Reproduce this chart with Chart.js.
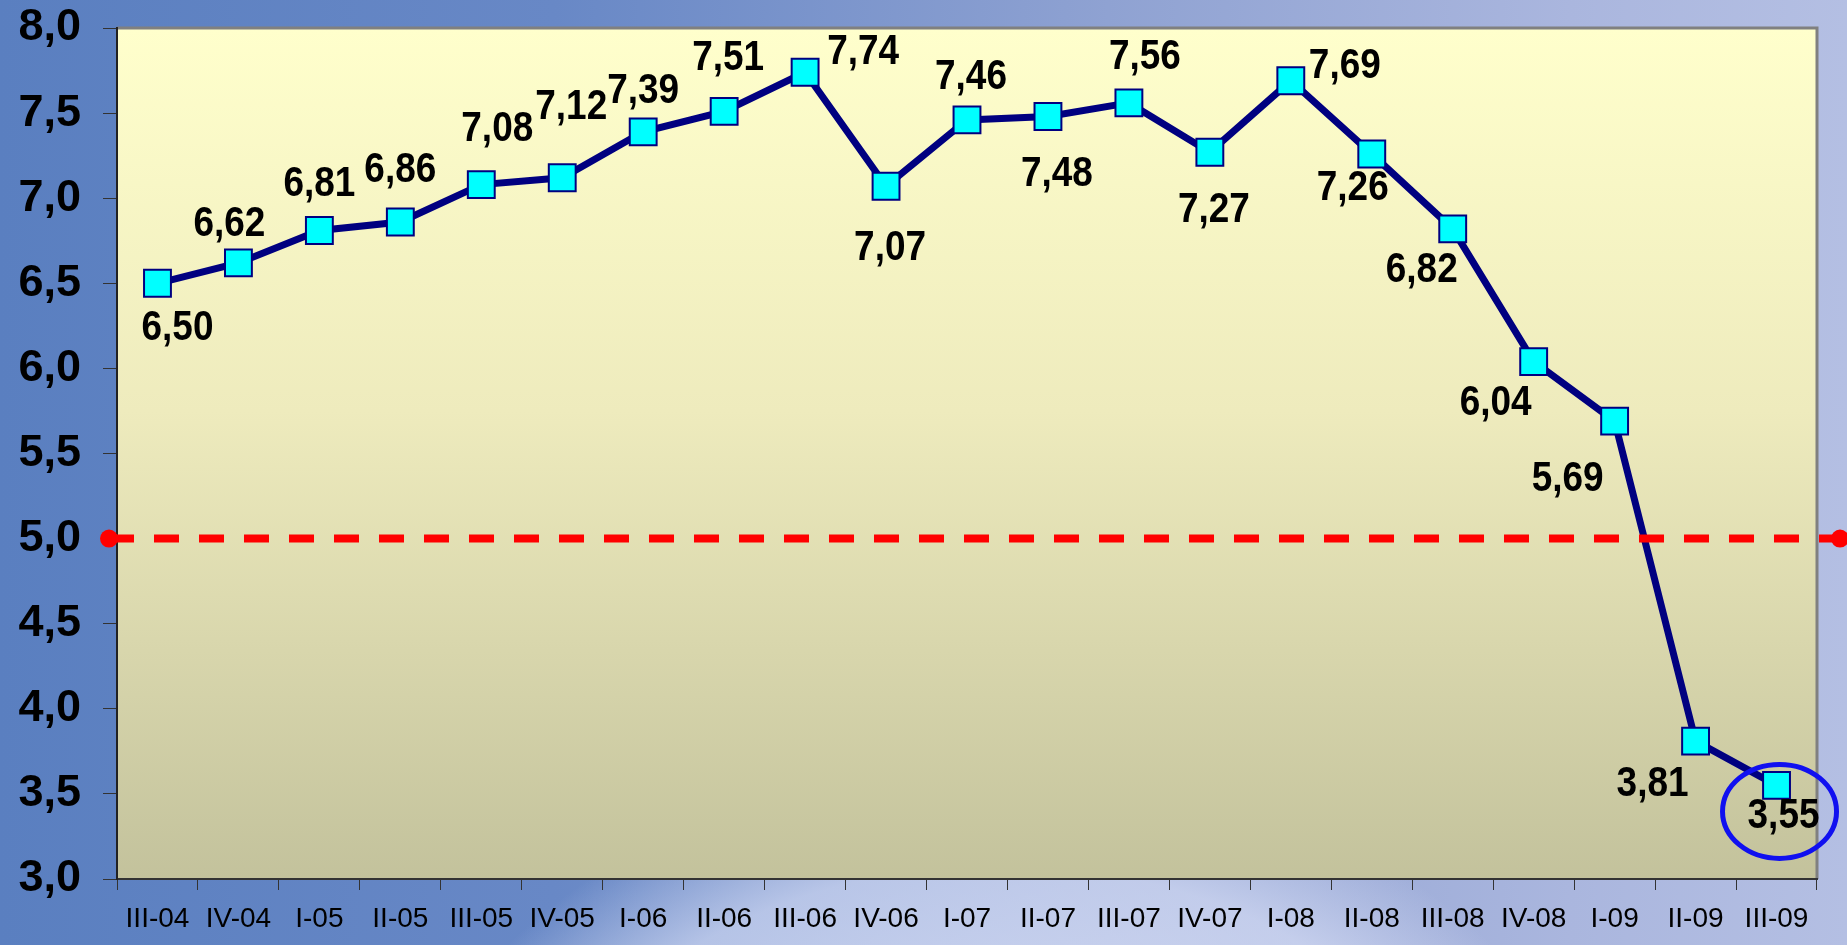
<!DOCTYPE html>
<html>
<head>
<meta charset="utf-8">
<script src="https://cdn.jsdelivr.net/npm/chart.js@4/dist/chart.umd.min.js"></script>
<style>
  html, body { margin: 0; padding: 0; }
  body {
    width: 1847px; height: 945px; overflow: hidden;
    background:
      radial-gradient(ellipse 900px 700px at 1000px 1250px, rgba(225,230,250,0.9) 0%, rgba(225,230,250,0.6) 55%, rgba(225,230,250,0) 70%),
      linear-gradient(90deg, #5a7fc0 0%, #6888c6 30%, #8fa2d2 60%, #aab6de 85%, #b4bfe3 100%);
  }
  #wrap { position: absolute; left: 0; top: 0; width: 1847px; height: 945px; }
</style>
</head>
<body>
<div id="wrap"><canvas id="chart"></canvas></div>
<script>
// kwartaly
const kwartaly = ["III-04", "IV-04", "I-05", "II-05", "III-05", "IV-05", "I-06", "II-06", "III-06", "IV-06",
  "I-07", "II-07", "III-07", "IV-07", "I-08", "II-08", "III-08", "IV-08", "I-09", "II-09", "III-09"];

const wartosci = [6.50, 6.62, 6.81, 6.86, 7.08, 7.12, 7.39, 7.51, 7.74, 7.07,
  7.46, 7.48, 7.56, 7.27, 7.69, 7.26, 6.82, 6.04, 5.69, 3.81, 3.55];

const osY_min = 3.0;
const osY_max = 8.0;
const osY_krok = 0.5;
const prog = 5.0; // czerwona linia przerywana

// przesuniecie etykiet wzgledem punktu [dx, dy]
const przesuniecia = [
  [20, 45], [-9, -38], [0, -46], [0, -52], [16, -55], [9, -70], [0, -40], [4, -53], [58, -20], [4, 62],
  [4, -42], [9, 58], [16, -45], [4, 58], [54, -14], [-19, 34], [-31, 42], [-38, 42], [-47, 58], [-43, 43], [7, 31]
];

const fmt = (v) => v.toFixed(2).replace(".", ",");

const tloWykresu = {
  id: "tloWykresu",
  beforeDraw(chart) {
    const { ctx, chartArea: a } = chart;
    const g = ctx.createLinearGradient(0, a.top, 0, a.bottom);
    g.addColorStop(0, "#ffffcc");
    g.addColorStop(0.45, "#eeebbd");
    g.addColorStop(1, "#c3c29c");
    ctx.save();
    ctx.fillStyle = g;
    ctx.fillRect(a.left, a.top, a.right - a.left, a.bottom - a.top);
    ctx.strokeStyle = "#808080";
    ctx.lineWidth = 3;
    ctx.beginPath();
    ctx.moveTo(a.left, a.top);
    ctx.lineTo(a.right, a.top);
    ctx.lineTo(a.right, a.bottom);
    ctx.stroke();
    ctx.restore();
  }
};

const liniaProgu = {
  id: "liniaProgu",
  afterDatasetsDraw(chart) {
    const { ctx, chartArea: a } = chart;
    const y = chart.scales.y.getPixelForValue(prog);
    const x0 = a.left - 8;
    const x1 = chart.width - 7;
    ctx.save();
    ctx.strokeStyle = "#ff0000";
    ctx.lineWidth = 8;
    ctx.setLineDash([25, 20]);
    ctx.beginPath();
    ctx.moveTo(x0, y);
    ctx.lineTo(x1, y);
    ctx.stroke();
    ctx.setLineDash([]);
    ctx.fillStyle = "#ff0000";
    [x0, x1].forEach((x) => {
      ctx.beginPath();
      ctx.arc(x, y, 9, 0, Math.PI * 2);
      ctx.fill();
    });
    ctx.restore();
  }
};

const etykiety = {
  id: "etykiety",
  afterDatasetsDraw(chart) {
    const { ctx } = chart;
    const pts = chart.getDatasetMeta(0).data;
    const sx = 0.88; // wezszy krój jak w oryginale
    ctx.save();
    ctx.fillStyle = "#000000";
    ctx.font = "bold 42px 'Liberation Sans', Arial";
    ctx.textAlign = "center";
    ctx.textBaseline = "middle";
    pts.forEach((p, i) => {
      const [dx, dy] = przesuniecia[i];
      ctx.save();
      ctx.translate(p.x + dx, p.y + dy);
      ctx.scale(sx, 1);
      ctx.fillText(fmt(wartosci[i]), 0, 0);
      ctx.restore();
    });
    // niebieska elipsa wokol ostatniego punktu
    const last = pts[pts.length - 1];
    ctx.strokeStyle = "#1010f0";
    ctx.lineWidth = 5;
    ctx.beginPath();
    ctx.ellipse(last.x + 3, last.y + 26, 57, 47, 0, 0, Math.PI * 2);
    ctx.stroke();
    ctx.restore();
  }
};

new Chart("chart", {
  type: "line",
  data: {
    labels: kwartaly,
    datasets: [{
      data: wartosci,
      borderColor: "#000080",
      borderWidth: 7,
      tension: 0,
      clip: false,
      pointStyle: "rect",
      pointRadius: 19,
      pointBackgroundColor: "#00ffff",
      pointBorderColor: "#000080",
      pointBorderWidth: 2,
      fill: false,
    }]
  },
  options: {
    responsive: true,
    maintainAspectRatio: false,
    animation: false,
    layout: { autoPadding: false, padding: { top: 28, right: 30, left: 0, bottom: 0 } },
    plugins: {
      legend: { display: false },
      tooltip: { enabled: false },
    },
    scales: {
      x: {
        offset: true,
        grid: {
          display: true,
          drawOnChartArea: false,
          offset: true,
          tickLength: 11,
          color: "#333333",
        },
        border: { color: "#333333", width: 2 },
        ticks: {
          color: "#000000",
          padding: 12,
          maxRotation: 0,
          autoSkip: false,
          font: { size: 28, family: "'Liberation Sans', Arial" },
        },
        afterFit(scale) {
          scale.height = 66;
          scale.paddingLeft = 0;
          scale.paddingRight = 0;
        },
      },
      y: {
        min: osY_min,
        max: osY_max,
        grid: {
          display: true,
          drawOnChartArea: false,
          tickLength: 14,
          color: "#333333",
        },
        border: { color: "#222222", width: 2 },
        ticks: {
          stepSize: osY_krok,
          color: "#000000",
          padding: 22,
          callback: (v) => v.toFixed(1).replace(".", ","),
          font: { size: 45, weight: "bold", family: "'Liberation Sans', Arial" },
        },
        afterFit(scale) {
          scale.width = 117;
          scale.paddingTop = 0;
          scale.paddingBottom = 0;
        },
      },
    },
  },
  plugins: [tloWykresu, liniaProgu, etykiety],
});
</script>
</body>
</html>
